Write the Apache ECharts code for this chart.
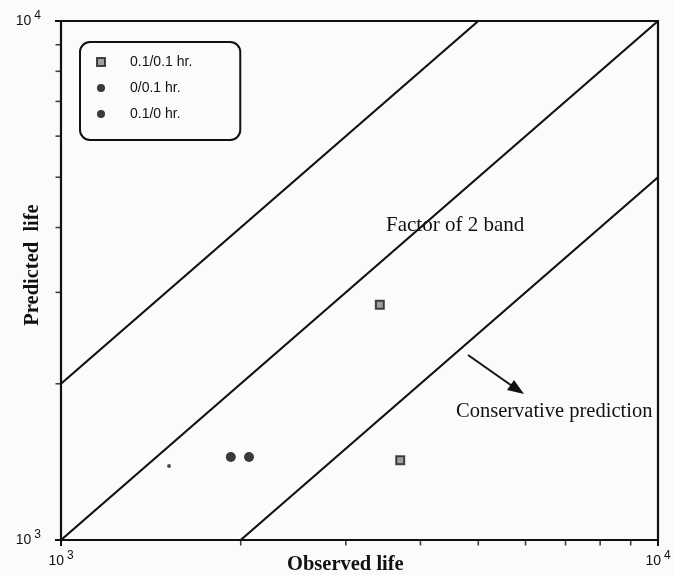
<!DOCTYPE html>
<html>
<head>
<meta charset="utf-8">
<script src="https://cdn.jsdelivr.net/npm/echarts@6/dist/echarts.min.js"></script>
<style>
  html, body { margin: 0; padding: 0; background: #fbfbfb; }
  #chart { width: 674px; height: 575px; }
</style>
</head>
<body>
<div id="chart"></div>
<script>
// Observed vs predicted fatigue life (cycles), log-log
const series01_01 = [[3420, 2840], [3700, 1425]];   // 0.1/0.1 hr. hold
const series0_01 = [[1925, 1445]];                  // 0/0.1 hr. hold
const series01_0 = [[2065, 1445]];                  // 0.1/0 hr. hold
const extraPoint = [[1517, 1388]];
// Factor-of-2 band and the 1:1 line
const upperBand = [[1000, 2000], [5000, 10000]];
const parityLine = [[1000, 1000], [10000, 10000]];
const lowerBand = [[2000, 1000], [10000, 5000]];
// Intermediate decade ticks
const minorTicks = [2000, 3000, 4000, 5000, 6000, 7000, 8000, 9000];
const axisMin = 1000, axisMax = 10000;

const serif = "'Liberation Serif', 'Times New Roman', serif";
const sans = "'Liberation Sans', Arial, Helvetica, sans-serif";

const chart = echarts.init(document.getElementById('chart'));

const powLabel = function (v) {
  const e = Math.round(Math.log10(v));
  return '{b|10}{s|' + e + '}';
};
const labelRich = {
  b: { fontFamily: sans, fontSize: 14, color: '#111', letterSpacing: 1 },
  s: { fontFamily: sans, fontSize: 12, color: '#111', padding: [0, 0, 10, 3] }
};

const lineStyle = { color: '#111', width: 2.2 };
const diag = (data) => ({
  type: 'line', data: data, symbol: 'none', silent: true,
  lineStyle: lineStyle, z: 2
});

chart.setOption({
  backgroundColor: '#fbfbfb',
  animation: false,
  grid: { left: 61, right: 16, top: 21, bottom: 35, show: true, borderColor: '#111', borderWidth: 2.2 },
  legend: {
    orient: 'vertical',
    left: 80, top: 42,
    padding: [13, 48, 19, 16],
    itemGap: 12,
    itemWidth: 8, itemHeight: 8,
    borderColor: '#111', borderWidth: 2, borderRadius: 10,
    textStyle: { fontFamily: sans, fontSize: 14, color: '#111', padding: [2, 0, 0, 20], letterSpacing: 0.8 },
    data: ['0.1/0.1 hr.', '0/0.1 hr.', '0.1/0 hr.']
  },
  xAxis: {
    type: 'log', logBase: 10, min: axisMin, max: axisMax,
    axisLine: { show: false },
    axisTick: { show: true, length: 6, lineStyle: { color: '#111', width: 2 } },
    splitLine: { show: false },
    axisLabel: { formatter: powLabel, rich: labelRich, margin: 10 }
  },
  yAxis: {
    type: 'log', logBase: 10, min: axisMin, max: axisMax,
    axisLine: { show: false },
    axisTick: { show: true, length: 6, lineStyle: { color: '#111', width: 2 } },
    splitLine: { show: false },
    axisLabel: { formatter: powLabel, rich: labelRich, margin: 20 }
  },
  series: [
    diag(upperBand), diag(parityLine), diag(lowerBand),
    {
      type: 'scatter', name: 'xticks', silent: true, clip: false,
      data: minorTicks.map(v => [v, axisMin]),
      symbol: 'rect', symbolSize: [1.6, 5], symbolOffset: [0, 3],
      itemStyle: { color: '#111' }
    },
    {
      type: 'scatter', name: 'yticks', silent: true, clip: false,
      data: minorTicks.map(v => [axisMin, v]),
      symbol: 'rect', symbolSize: [5, 1.6], symbolOffset: [-3, 0],
      itemStyle: { color: '#111' }
    },
    {
      type: 'scatter', name: '0.1/0.1 hr.', data: series01_01,
      symbol: 'rect', symbolSize: 8,
      itemStyle: { color: '#8a8a8a', borderColor: '#1a1a1a', borderWidth: 2 }, z: 5
    },
    {
      type: 'scatter', name: '0/0.1 hr.', data: series0_01,
      symbol: 'circle', symbolSize: 10,
      itemStyle: { color: '#0a0a0a' }, z: 5
    },
    {
      type: 'scatter', name: '0.1/0 hr.', data: series01_0,
      symbol: 'circle', symbolSize: 10,
      itemStyle: { color: '#0a0a0a' }, z: 5
    },
    {
      type: 'scatter', name: 'extra', data: extraPoint,
      symbol: 'circle', symbolSize: 4,
      itemStyle: { color: '#222' }, z: 5
    }
  ],
  graphic: [
    { type: 'text', left: 386, top: 215,
      style: { text: 'Factor of 2 band', font: '21px ' + serif, fill: '#111' } },
    { type: 'text', left: 456, top: 401,
      style: { text: 'Conservative prediction', font: '20.5px ' + serif, fill: '#111' } },
    { type: 'line', shape: { x1: 468, y1: 355, x2: 515, y2: 388 },
      style: { stroke: '#111', lineWidth: 2 } },
    { type: 'polygon', shape: { points: [[524, 394], [507, 390], [514, 380]] },
      style: { fill: '#111' } },
    { type: 'text', left: 287, top: 554,
      style: { text: 'Observed life', font: 'bold 20.5px ' + serif, fill: '#111' } },
    { type: 'text', x: 33, y: 265, rotation: Math.PI / 2,
      style: { text: 'Predicted  life', font: 'bold 20.5px ' + serif, fill: '#111',
               align: 'center', verticalAlign: 'middle' } }
  ]
});
</script>
</body>
</html>
